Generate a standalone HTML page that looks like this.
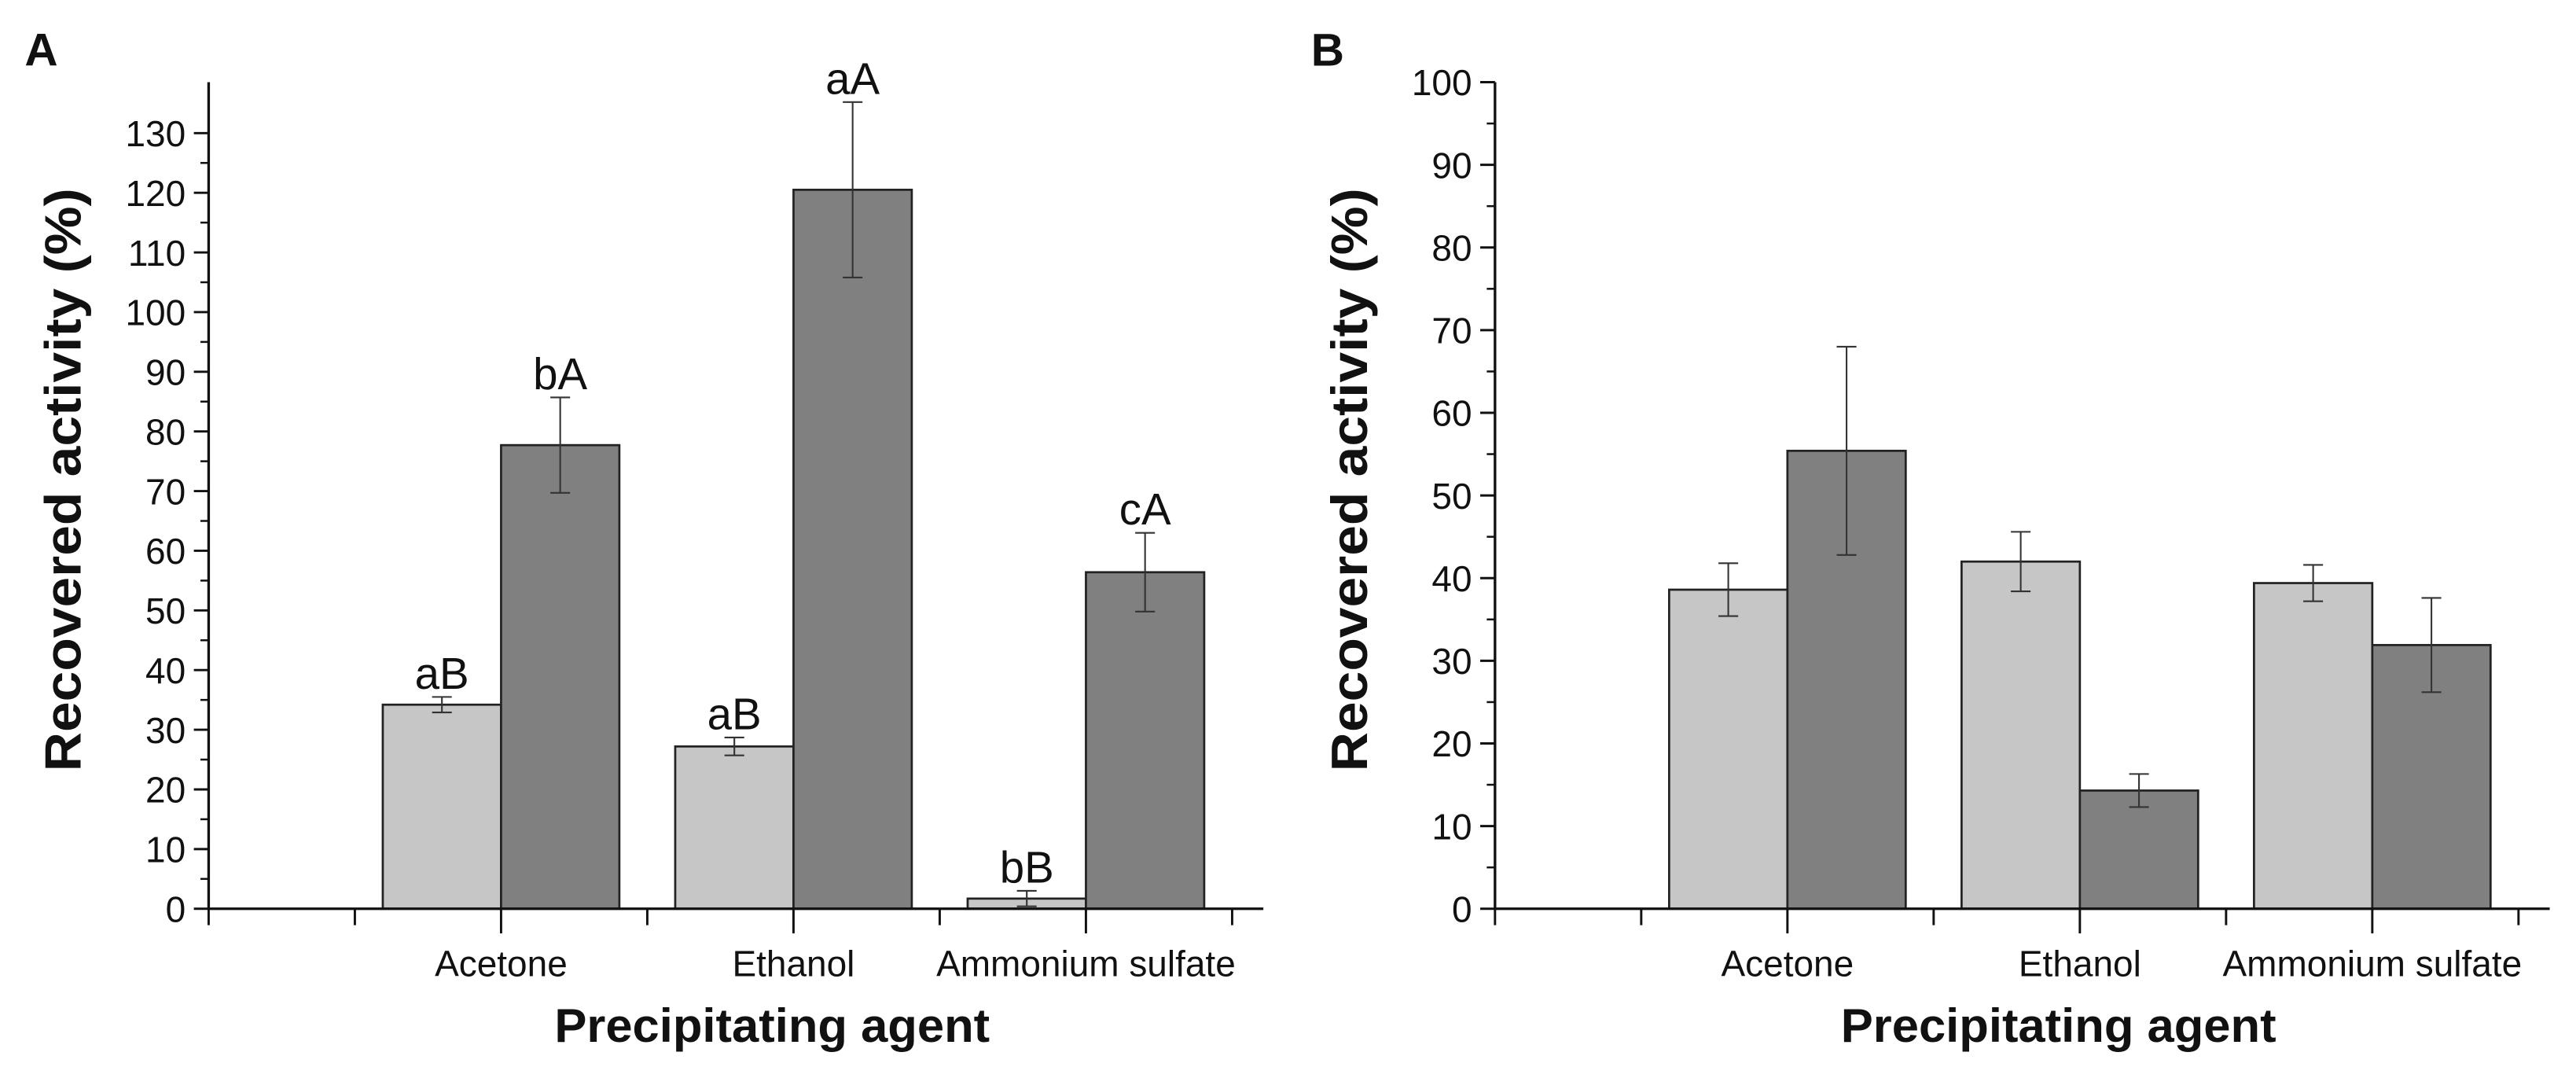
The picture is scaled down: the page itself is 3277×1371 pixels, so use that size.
<!DOCTYPE html>
<html><head><meta charset="utf-8"><style>
html,body{margin:0;padding:0;background:#fff;}
svg{display:block;font-family:"Liberation Sans",Arial,sans-serif;}
</style></head><body>
<svg id="fig" width="3277" height="1371" viewBox="0 0 1568 656" preserveAspectRatio="none" xmlns="http://www.w3.org/2000/svg">
<rect width="1568" height="656" fill="#fff"/>
</svg>
<script>
const categories = ["Acetone","Ethanol","Ammonium sulfate"];
const aLight = [34.2, 27.2, 1.7];
const aLightErr = [1.3, 1.5, 1.3];
const aDark = [77.7, 120.5, 56.4];
const aDarkErr = [8, 14.7, 6.6];
const aLightLabels = ["aB","aB","bB"];
const aDarkLabels = ["bA","aA","cA"];
const bLight = [38.6, 42.0, 39.4];
const bLightErr = [3.2, 3.6, 2.2];
const bDark = [55.4, 14.3, 31.9];
const bDarkErr = [12.6, 2.0, 5.7];
const aTicks = [0,10,20,30,40,50,60,70,80,90,100,110,120,130];
const bTicks = [0,10,20,30,40,50,60,70,80,90,100];

const svg = document.getElementById('fig');
const NS = "http://www.w3.org/2000/svg";
function el(tag, attrs, parent){const e=document.createElementNS(NS,tag);for(const k in attrs)e.setAttribute(k,attrs[k]);(parent||svg).appendChild(e);return e;}
function txt(s, attrs, parent){const e=el('text',attrs,parent);e.textContent=s;return e;}

function panel(cfg){
  const g = el('g',{});
  
  
  const x0=cfg.x0, y0=553, yTop=cfg.yTop, vmax=cfg.vmax;
  const yS = v => y0 - (v/vmax)*(y0-yTop);
  const step=89;
  const cx = i => x0 + step*(2+2*i);
  const L=txt(cfg.letter,{x:cfg.x0-112,y:40,'font-size':28,'font-weight':'bold',fill:'#111'},g);
  
  
  const bw=72;
  categories.forEach((c,i)=>{
    const series=[[cfg.light,cfg.lightErr,'#c6c6c6',-1,cfg.lightLab],[cfg.dark,cfg.darkErr,'#808080',0,cfg.darkLab]];
    series.forEach((s,j)=>{
      const v=s[0][i], e=s[1][i];
      const bx=cx(i)+s[3]*bw;
      const r=el('rect',{x:bx,y:yS(v),width:bw,height:y0-yS(v),fill:s[2],stroke:'#222','stroke-width':1.3},g);
      
      
      const mx=bx+bw/2;
      const eb=el('path',{d:`M${mx},${yS(v+e)}V${yS(v-e)}M${mx-6},${yS(v+e)}h12M${mx-6},${yS(v-e)}h12`,stroke:'#333','stroke-width':1,fill:'none'},g);
      
      
      if(s[4]){
        const t=txt(s[4][i],{x:mx,y:yS(v+e)-5,'font-size':27,'text-anchor':'middle',fill:'#111'},g);
        
        
      }
    });
  });
  const ax=el('path',{d:`M${x0},${cfg.axTop}V${y0}H${x0+step*7+19}`,stroke:'#111','stroke-width':1.6,fill:'none'},g);
  
  
  cfg.ticks.forEach((t,k)=>{
    const y=yS(t);
    el('line',{x1:x0-9,x2:x0,y1:y,y2:y,stroke:'#111','stroke-width':1.4},g);
    if(k<cfg.ticks.length-1){const ym=yS(t+5);el('line',{x1:x0-5,x2:x0,y1:ym,y2:ym,stroke:'#111','stroke-width':1.2},g);}
    const tl=txt(String(t),{x:x0-14,y:y+8,'font-size':22,'text-anchor':'end',fill:'#111'},g);
    
    
  });
  for(let k=0;k<=7;k++){const h=(k%2===0&&k>0)?15:10;el('line',{x1:x0+step*k,x2:x0+step*k,y1:y0,y2:y0+h,stroke:'#111','stroke-width':1.4},g);}
  categories.forEach((c,i)=>{
    const t=txt(c,{x:cx(i),y:594,'font-size':22,'text-anchor':'middle',fill:'#111'},g);
    
    
  });
  const xt=txt('Precipitating agent',{x:x0+343,y:634,'font-size':29,'font-weight':'bold','text-anchor':'middle',fill:'#111',textLength:265,lengthAdjust:'spacingAndGlyphs'},g);
  
  
  const yt=txt('Recovered activity (%)',{x:0,y:0,'font-size':31,'font-weight':'bold','text-anchor':'middle',fill:'#111',textLength:355,lengthAdjust:'spacingAndGlyphs',transform:`translate(${x0-78},${cfg.yTitleY}) rotate(-90)`},g);
  
  
}
panel({name:'panel-a',letter:'A',x0:127,yTop:81,vmax:130,axTop:50,ticks:aTicks,light:aLight,lightErr:aLightErr,dark:aDark,darkErr:aDarkErr,lightLab:aLightLabels,darkLab:aDarkLabels,yTitleY:292});
panel({name:'panel-b',letter:'B',x0:910,yTop:50,vmax:100,axTop:50,ticks:bTicks,light:bLight,lightErr:bLightErr,dark:bDark,darkErr:bDarkErr,lightLab:null,darkLab:null,yTitleY:292});
</script>
</body></html>
